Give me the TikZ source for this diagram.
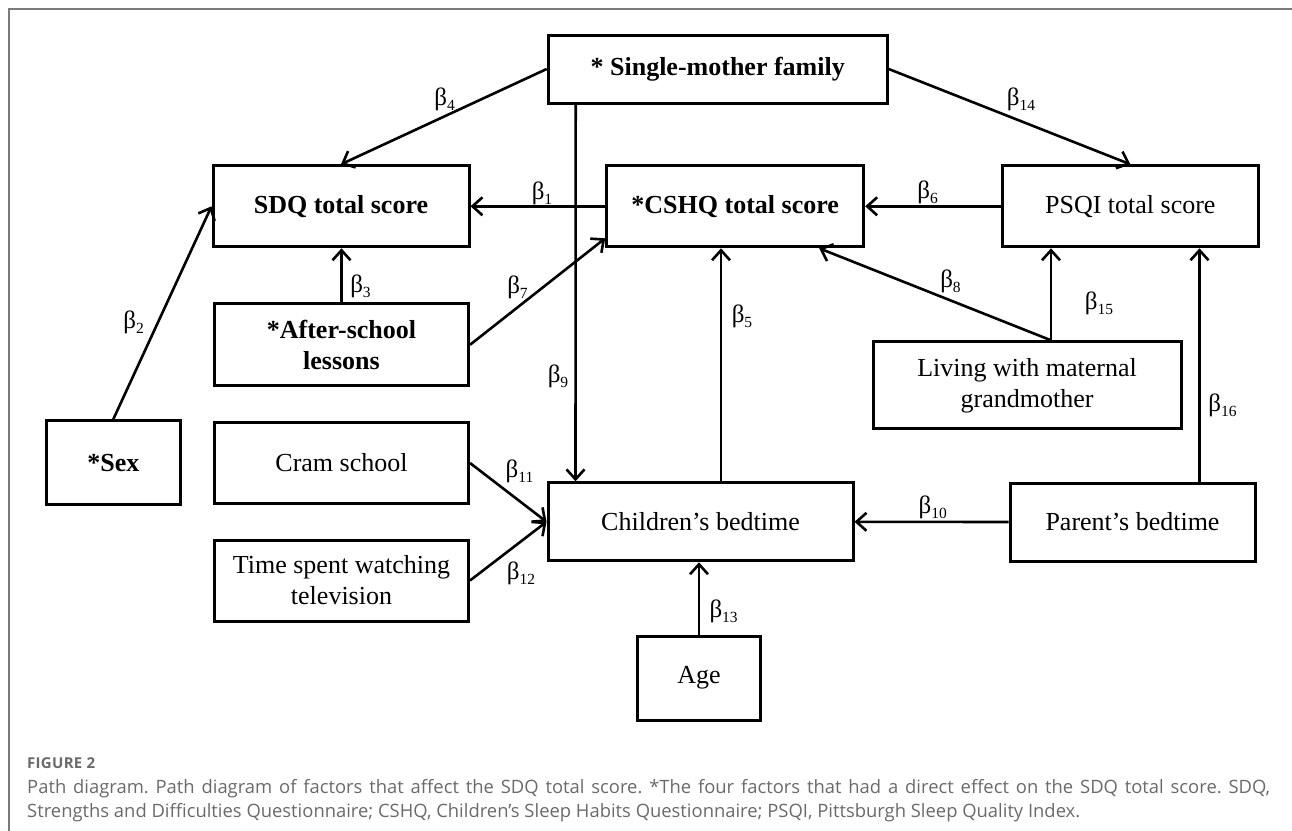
\documentclass[tikz,border=0pt]{standalone}
\usepackage{fontspec}
\setmainfont{Liberation Serif}
\newfontfamily\capfont[Ligatures=NoCommon]{Open Sans}
\usetikzlibrary{arrows.meta}
\definecolor{capgray}{HTML}{6A6A6A}
\definecolor{framegray}{HTML}{7A7A7A}
\newcommand{\bl}[1]{{\fontsize{25}{25}\selectfont β\raisebox{-5pt}{\fontsize{15.5}{15.5}\selectfont #1}}}
\tikzset{
  box/.style={draw, line width=3pt, inner sep=0pt, align=center, font=\fontsize{26}{31}\selectfont},
  bbox/.style={box, font=\fontsize{26}{31}\selectfont\bfseries},
  arr/.style={line width=2.6pt, -{Straight Barb[length=10pt,width=18pt,line width=2.6pt]}},
  lab/.style={inner sep=0pt, anchor=center},
  captxt/.style={inner sep=0pt, anchor=base west, text=capgray, font=\capfont\fontsize{18.4}{18.4}\selectfont}
}
\begin{document}
\frenchspacing
\begin{tikzpicture}[x=1pt,y=-1pt]
\useasboundingbox (0,0) rectangle (1292,830);
% frame
\coordinate (fa) at (9,840);
\coordinate (fb) at (9,9);
\coordinate (fc) at (1300,9);
\draw[framegray, line width=1.3pt] (fa) -- (fb) -- (fc);

% boxes
\node[bbox, minimum width=339pt, minimum height=68pt] (single) at (717.7,69) {* Single-mother family};
\node[bbox, minimum width=256pt, minimum height=81pt] (sdq) at (341,206.3) {SDQ total score};
\node[bbox, minimum width=257pt, minimum height=81pt] (cshq) at (735.2,206.3) {*CSHQ total score};
\node[box, minimum width=256pt, minimum height=81pt] (psqi) at (1130.3,206.3) {PSQI total score};
\node[bbox, minimum width=254pt, minimum height=82pt] (after) at (341.5,344.8) {*After-school\\lessons};
\node[bbox, minimum width=134pt, minimum height=84pt] (sex) at (113.3,462.7) {*Sex};
\node[box, minimum width=254pt, minimum height=81pt] (cram) at (341.5,463) {Cram school};
\node[box, minimum width=254pt, minimum height=81pt] (tv) at (341.5,580.5) {Time spent watching\\television};
\node[box, minimum width=308pt, minimum height=87pt] (living) at (1027,385.3) {Living with maternal\\grandmother};
\node[box, minimum width=305pt, minimum height=78pt] (children) at (700.5,521.8) {Children’s bedtime};
\node[box, minimum width=245pt, minimum height=78pt] (parent) at (1132.5,522) {Parent’s bedtime};
\node[box, minimum width=123pt, minimum height=84pt] (age) at (699,678) {Age};

% connectors
\draw[arr] (single.west) -- (sdq.north);
\draw[arr] (single.east) -- (psqi.north);
\draw[arr] ([xshift=29pt]single.south west) -- ([xshift=29pt]children.north west);
\draw[arr] (cshq.west) -- (sdq.east);
\draw[arr] (psqi.west) -- (cshq.east);
\coordinate (s3) at (after.north);
\draw[arr] (s3) -- (s3 |- sdq.south);
\draw[arr] (after.east) -- ([yshift=10pt]cshq.south west);
\draw[arr] (sex.north) -- (sdq.west);
\coordinate (s8) at ([xshift=24pt]living.north);
\draw[arr] (s8) -- ([xshift=84pt]cshq.south);
\draw[arr] (s8) -- (s8 |- psqi.south);
\coordinate (s5) at ([xshift=20.5pt]children.north);
\draw[arr] (s5) -- (s5 |- cshq.south);
\coordinate (s16) at ([xshift=67pt]parent.north);
\draw[arr] (s16) -- (s16 |- psqi.south);
\draw[arr] (parent.west) -- (children.east);
\draw[arr] (cram.east) -- (children.west);
\draw[arr] (tv.east) -- (children.west);
\coordinate (s13) at (age.north);
\draw[arr] (s13) -- (s13 |- children.south);

% labels
\node[lab] (l1) at (542,193) {\bl{1}};
\node[lab] (l2) at (133.7,322) {\bl{2}};
\node[lab] (l3) at (360.5,286.5) {\bl{3}};
\node[lab] (l4) at (444.6,99) {\bl{4}};
\node[lab] (l5) at (742,316.7) {\bl{5}};
\node[lab] (l6) at (927.7,192.5) {\bl{6}};
\node[lab] (l7) at (517.5,287) {\bl{7}};
\node[lab] (l8) at (950.5,281) {\bl{8}};
\node[lab] (l9) at (558,376) {\bl{9}};
\node[lab] (l10) at (932.8,507.5) {\bl{10}};
\node[lab] (l11) at (519.5,471) {\bl{11}};
\node[lab] (l12) at (521,573) {\bl{12}};
\node[lab] (l13) at (723.6,611) {\bl{13}};
\node[lab] (l14) at (1021,99.7) {\bl{14}};
\node[lab] (l15) at (1099,303) {\bl{15}};
\node[lab] (l16) at (1222.4,405.7) {\bl{16}};

% caption
\node[captxt, font=\capfont\fontsize{15}{15}\selectfont\bfseries\addfontfeature{LetterSpace=2}] (fig) at (27,768.5) {FIGURE 2};
\node[captxt] (cap1) at (27,793) {\makebox[1243pt][s]{Path diagram. Path diagram of factors that affect the SDQ total score. *The four factors that had a direct effect on the SDQ total score. SDQ,}};
\node[captxt] (cap2) at (27,817) {Strengths and Difficulties Questionnaire; CSHQ, Children’s Sleep Habits Questionnaire; PSQI, Pittsburgh Sleep Quality Index.};
\end{tikzpicture}
\end{document}
